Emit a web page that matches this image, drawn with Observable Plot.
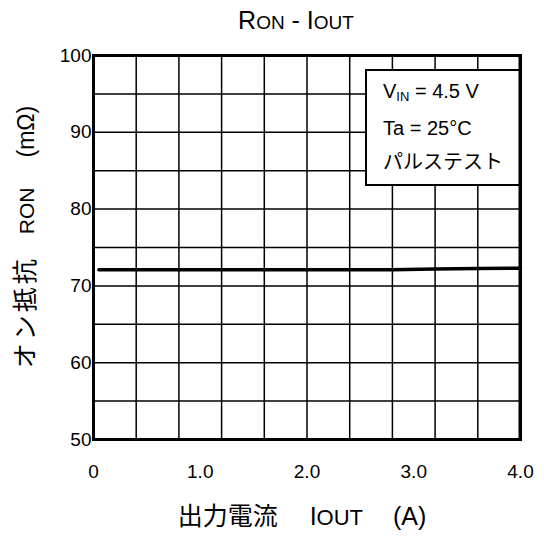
<!DOCTYPE html>
<html>
<head>
<meta charset="utf-8">
<script src="https://cdn.jsdelivr.net/npm/d3@7"></script>
<script src="https://cdn.jsdelivr.net/npm/@observablehq/plot@0.6"></script>
<style>
  body { margin: 0; background: #fff; }
  #chart svg { display: block; }
</style>
</head>
<body>
<div id="chart"></div>
<script>
// Data
const iout = [0.05, 0.4, 0.8, 1.2, 1.6, 2.0, 2.4, 2.8, 3.2, 3.6, 4.0];
const ron  = [72.1, 72.1, 72.1, 72.1, 72.1, 72.1, 72.1, 72.1, 72.2, 72.25, 72.3];
const xTicks = [0, 1, 2, 3, 4];
const xTickLabels = ["0", "1.0", "2.0", "3.0", "4.0"];
const yTicks = [50, 60, 70, 80, 90, 100];
const xGrid = [0.4, 0.8, 1.2, 1.6, 2.0, 2.4, 2.8, 3.2, 3.6];
const yGrid = [55, 60, 65, 70, 75, 80, 85, 90, 95];
const legendLines = ["Ta = 25°C", "パルステスト"];

const data = iout.map((x, i) => ({x, y: ron[i]}));
const font = "'Liberation Sans', Arial, 'Noto Sans CJK JP', sans-serif";
const cjk = "'Noto Sans CJK JP', sans-serif";

const plot = Plot.plot({
  width: 544,
  height: 536,
  marginLeft: 93,
  marginRight: 24,
  marginTop: 55,
  marginBottom: 97,
  style: {fontFamily: font, fontSize: "19px", color: "#000", background: "#fff"},
  x: {domain: [0, 4], label: null},
  y: {domain: [50, 100], label: null},
  marks: [
    Plot.ruleX(xGrid, {stroke: "#000", strokeWidth: 1.5}),
    Plot.ruleY(yGrid, {stroke: "#000", strokeWidth: 1.5}),
    Plot.line(data, {x: "x", y: "y", stroke: "#000", strokeWidth: 3.5}),
    Plot.frame({stroke: "#000", strokeWidth: 3}),
    Plot.axisX({ticks: xTicks, tickFormat: d => xTickLabels[xTicks.indexOf(d)], tickSize: 0, tickPadding: 25, fontSize: 19, label: null}),
    Plot.axisY({ticks: yTicks, tickFormat: d => String(d), tickSize: 0, tickPadding: 2, fontSize: 19, label: null})
  ]
});

document.getElementById("chart").appendChild(plot);

const svg = d3.select(plot);

// Title: RON - IOUT with small caps
const title = svg.append("text")
  .attr("x", 296).attr("y", 29)
  .attr("text-anchor", "middle")
  .attr("font-family", font)
  .attr("fill", "#000");
title.append("tspan").attr("font-size", 25).text("R");
title.append("tspan").attr("font-size", 19).text("ON");
title.append("tspan").attr("font-size", 25).text(" - I");
title.append("tspan").attr("font-size", 19).text("OUT");

// Legend box
const lx = 366, ly = 70, lw = 154, lh = 115;
svg.append("rect")
  .attr("x", lx).attr("y", ly).attr("width", lw).attr("height", lh)
  .attr("fill", "#fff").attr("stroke", "#000").attr("stroke-width", 2);
const l1 = svg.append("text").attr("x", 383).attr("y", 98)
  .attr("text-anchor", "start")
  .attr("font-family", font).attr("font-size", 20).attr("fill", "#000");
l1.append("tspan").text("V");
l1.append("tspan").attr("font-size", 13).attr("dy", 3).text("IN");
l1.append("tspan").attr("dy", -3).text(" = 4.5 V");
legendLines.forEach((t, i) => {
  svg.append("text").attr("x", 383).attr("y", 135 + i * 34)
    .attr("text-anchor", "start")
    .attr("font-family", i === 1 ? cjk : font).attr("font-size", 20).attr("fill", "#000").text(t);
});
// Redraw right frame edge over legend
svg.append("line").attr("x1", 520).attr("x2", 520).attr("y1", 55).attr("y2", 439)
  .attr("stroke", "#000").attr("stroke-width", 3);

// Y label
const yl = svg.append("text")
  .attr("transform", "translate(34,237) rotate(-90)")
  .attr("text-anchor", "middle")
  .attr("font-family", font).attr("fill", "#000");
yl.append("tspan").attr("font-size", 25).attr("font-family", cjk).attr("letter-spacing", 3).text("オン抵抗");
yl.append("tspan").attr("font-size", 21).attr("dx", 22).text("RON");
yl.append("tspan").attr("font-size", 23).attr("dx", 30).text("(mΩ)");

// X label
const xl = svg.append("text")
  .attr("x", 302).attr("y", 525)
  .attr("text-anchor", "middle")
  .attr("font-family", font).attr("fill", "#000");
xl.append("tspan").attr("font-size", 25).attr("font-family", cjk).text("出力電流");
xl.append("tspan").attr("font-size", 25).attr("dx", 32).text("I");
xl.append("tspan").attr("font-size", 22).text("OUT");
xl.append("tspan").attr("font-size", 25).attr("dx", 30).text("(A)");
</script>
</body>
</html>
